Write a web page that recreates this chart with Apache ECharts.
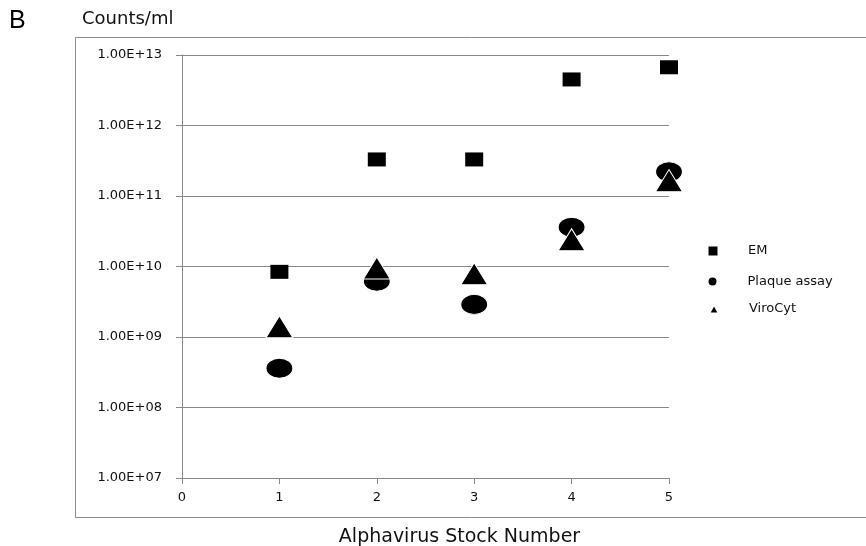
<!DOCTYPE html>
<html>
<head>
<meta charset="utf-8">
<script src="https://cdn.jsdelivr.net/npm/echarts@6/dist/echarts.min.js"></script>
<style>
  html, body { margin: 0; padding: 0; background: #fff; }
  #chart { width: 866px; height: 546px; }
</style>
</head>
<body>
<div id="chart"></div>
<script>
// Alphavirus stock titres measured three ways (counts per ml)
const stockNumbers = [1, 2, 3, 4, 5];
const emCounts = [8.4e9, 3.3e11, 3.3e11, 4.5e12, 6.7e12];
const plaqueCounts = [3.6e8, 6.2e9, 2.9e9, 3.6e10, 2.2e11];
const viroCytCounts = [1.4e9, 9.5e9, 7.9e9, 2.4e10, 1.65e11];

const seriesNames = ['EM', 'Plaque assay', 'ViroCyt'];
const xTickLabels = ['0', '1', '2', '3', '4', '5'];
const yTickLabels = ['1.00E+07', '1.00E+08', '1.00E+09', '1.00E+10', '1.00E+11', '1.00E+12', '1.00E+13'];

const pairs = vals => stockNumbers.map((x, i) => [x, vals[i]]);

const font = 'DejaVu Sans, Verdana, sans-serif';
const axisGray = '#888888';

const chart = echarts.init(document.getElementById('chart'), null, { renderer: 'canvas' });

function legendAt(name, top, w, h, keep) {
  return {
    data: [name],
    left: 713 - w / 2,
    top: top - h / 2,
    padding: 0,
    itemWidth: w,
    itemHeight: h,
    symbolKeepAspect: keep,
    selectedMode: false,
    textStyle: {
      fontFamily: font, fontSize: 13, color: '#111',
      padding: [0, 0, 0, 30 - w / 2]
    }
  };
}

chart.setOption({
  animation: false,
  backgroundColor: '#fff',
  textStyle: { fontFamily: font },
  graphic: [
    {
      type: 'rect', z: -1, silent: true,
      shape: { x: 75.5, y: 37.5, width: 900, height: 480 },
      style: { fill: 'none', stroke: '#8c8c8c', lineWidth: 1 }
    },
    {
      type: 'text', left: 9, top: 9,
      style: { text: 'B', font: '25px "Liberation Sans", Arial, sans-serif', fill: '#000' }
    },
    {
      type: 'text', left: 82, top: 10,
      style: { text: 'Counts/ml', font: '18px ' + font, fill: '#111' }
    }
  ],
  legend: [
    legendAt(seriesNames[0], 249, 9, 9, true),
    legendAt(seriesNames[1], 280, 13, 10, false),
    legendAt(seriesNames[2], 307, 10, 9, false)
  ],
  grid: { left: 182, right: 197, top: 55, bottom: 68, outerBoundsMode: 'none', containLabel: false },
  xAxis: {
    type: 'value',
    min: 0, max: 5, interval: 1,
    name: 'Alphavirus Stock Number',
    nameLocation: 'middle',
    nameGap: 50,
    nameTextStyle: { fontFamily: font, fontSize: 19, color: '#111', padding: [0, 0, 0, 68] },
    axisLine: { lineStyle: { color: axisGray, width: 1 } },
    axisTick: { show: true, length: 6, lineStyle: { color: axisGray } },
    axisLabel: {
      margin: 13, fontFamily: font, fontSize: 13, color: '#111',
      formatter: v => xTickLabels[Math.round(v)]
    },
    splitLine: { show: false }
  },
  yAxis: {
    type: 'log',
    logBase: 10,
    min: 1e7, max: 1e13,
    axisLine: { show: true, lineStyle: { color: axisGray, width: 1 } },
    axisTick: { show: true, length: 6, lineStyle: { color: axisGray } },
    axisLabel: {
      margin: 20, fontFamily: font, fontSize: 13, color: '#111',
      formatter: v => yTickLabels[Math.round(Math.log10(v)) - 7]
    },
    splitLine: { show: true, lineStyle: { color: axisGray, width: 1 } }
  },
  series: [
    {
      name: seriesNames[0], type: 'scatter', symbol: 'rect',
      symbolSize: [18, 14],
      itemStyle: { color: '#000', opacity: 1 },
      data: pairs(emCounts)
    },
    {
      name: seriesNames[1], type: 'scatter', symbol: 'circle',
      symbolSize: [27, 20],
      itemStyle: { color: '#000', borderColor: '#fff', borderWidth: 1, opacity: 1 },
      data: pairs(plaqueCounts)
    },
    {
      name: seriesNames[2], type: 'scatter', symbol: 'triangle',
      symbolSize: [27, 22],
      itemStyle: { color: '#000', borderColor: '#fff', borderWidth: 1, opacity: 1 },
      data: pairs(viroCytCounts)
    }
  ]
});
</script>
</body>
</html>
